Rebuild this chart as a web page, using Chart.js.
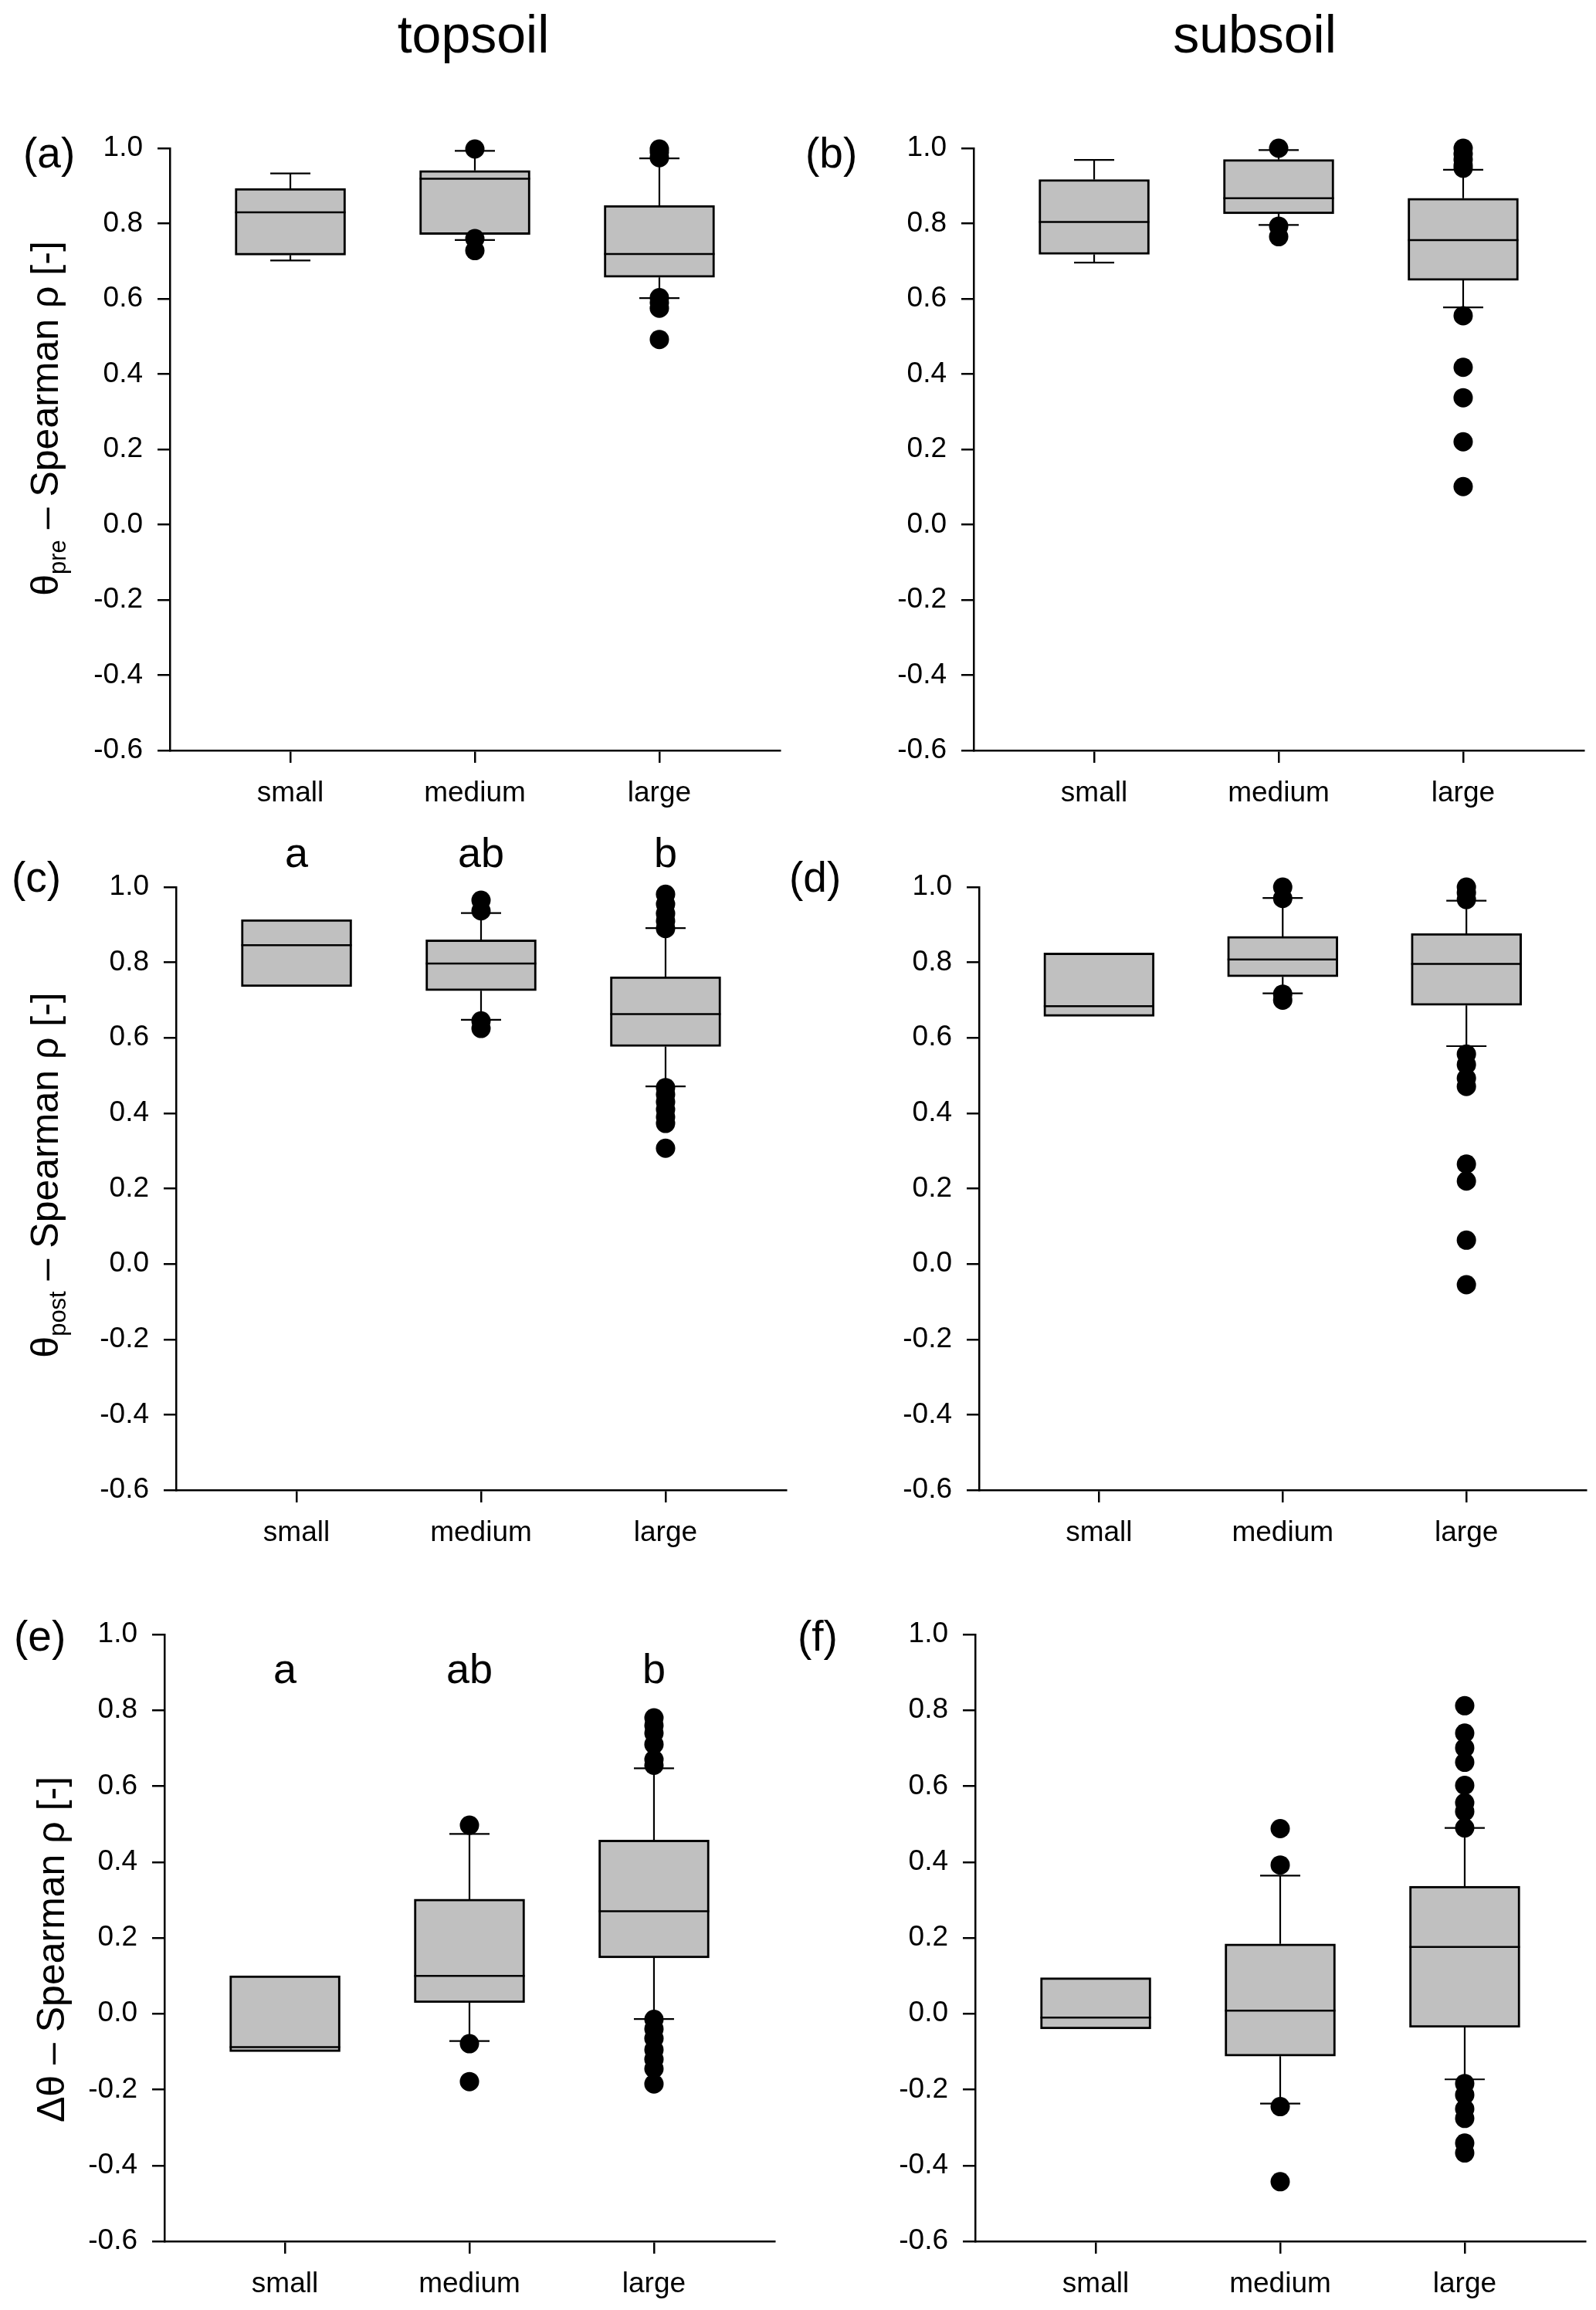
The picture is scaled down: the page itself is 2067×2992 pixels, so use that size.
<!DOCTYPE html>
<html>
<head>
<meta charset="utf-8">
<script src="https://cdn.jsdelivr.net/npm/chart.js@4.4.1/dist/chart.umd.min.js"></script>
<style>
  body { margin: 0; background: #fff; width: 2067px; height: 2992px; position: relative; overflow: hidden; }
  canvas { position: absolute; }
</style>
</head>
<body>
<canvas id="pa"></canvas>
<canvas id="pb"></canvas>
<canvas id="pc"></canvas>
<canvas id="pd"></canvas>
<canvas id="pe"></canvas>
<canvas id="pf"></canvas>
<script>
const categories = ["small", "medium", "large"];
const yTickValues = [-0.6, -0.4, -0.2, 0.0, 0.2, 0.4, 0.6, 0.8, 1.0];
const groupLetters = ["a", "ab", "b"];

// (a) theta pre, topsoil
const aLow = [0.702, 0.756, 0.602];
const aQ1 = [0.716, 0.771, 0.657];
const aMed = [0.830, 0.919, 0.719];
const aQ3 = [0.893, 0.941, 0.848];
const aHigh = [0.933, 0.993, 0.973];
const aOut = [[], [0.998, 0.760, 0.728], [0.998, 0.990, 0.975, 0.603, 0.590, 0.575, 0.492]];

// (b) theta pre, subsoil
const bLow = [0.696, 0.796, 0.577];
const bQ1 = [0.718, 0.826, 0.649];
const bMed = [0.804, 0.867, 0.756];
const bQ3 = [0.917, 0.970, 0.867];
const bHigh = [0.969, 0.995, 0.943];
const bOut = [[], [1.0, 0.793, 0.765], [1.0, 0.985, 0.970, 0.955, 0.947, 0.555, 0.418, 0.337, 0.220, 0.101]];

// (c) theta post, topsoil
const cLow = [null, 0.648, 0.471];
const cQ1 = [0.736, 0.725, 0.577];
const cMed = [0.846, 0.797, 0.663];
const cQ3 = [0.914, 0.860, 0.762];
const cHigh = [null, 0.931, 0.891];
const cOut = [[], [0.965, 0.937, 0.645, 0.625], [0.981, 0.955, 0.930, 0.910, 0.890, 0.468, 0.450, 0.430, 0.410, 0.390, 0.373, 0.307]];

// (d) theta post, subsoil
const dLow = [null, 0.718, 0.578];
const dQ1 = [0.657, 0.762, 0.686];
const dMed = [0.684, 0.808, 0.796];
const dQ3 = [0.825, 0.869, 0.877];
const dHigh = [null, 0.971, 0.964];
const dOut = [[], [1.0, 0.970, 0.716, 0.700], [1.0, 0.985, 0.967, 0.557, 0.529, 0.493, 0.471, 0.265, 0.220, 0.063, -0.055]];

// (e) delta theta, topsoil
const eLow = [null, -0.072, -0.014];
const eQ1 = [-0.100, 0.029, 0.147];
const eMed = [-0.088, 0.100, 0.270];
const eQ3 = [0.100, 0.302, 0.458];
const eHigh = [null, 0.474, 0.647];
const eOut = [[], [0.497, -0.079, -0.179], [0.780, 0.760, 0.740, 0.710, 0.670, 0.655, -0.015, -0.040, -0.065, -0.095, -0.120, -0.145, -0.185]];

// (f) delta theta, subsoil
const fLow = [null, -0.237, -0.173];
const fQ1 = [-0.040, -0.112, -0.036];
const fMed = [-0.010, 0.008, 0.176];
const fQ3 = [0.095, 0.184, 0.336];
const fHigh = [null, 0.364, 0.490];
const fOut = [[], [0.488, 0.392, -0.245, -0.443], [0.812, 0.740, 0.701, 0.663, 0.602, 0.556, 0.533, 0.490, -0.184, -0.214, -0.251, -0.276, -0.341, -0.367]];

const FONT = "'Liberation Sans', Arial, sans-serif";
const PLOT_W = 790;
const Y_BOX = 110;
const X_BOX = 80;
const BOX_W = 143;
const CAP_W = 52;

Chart.defaults.color = "#000";
Chart.defaults.font.family = FONT;

// Bố cục từng ô (không phải dữ liệu)
const panels = [
  { id: "pa", tag: "(a)", left: 0, top: 0, w: 1033, h: 1060, axisX: 220, plotTop: 192, plotBottom: 972,
    low: aLow, q1: aQ1, med: aMed, q3: aQ3, high: aHigh, out: aOut,
    label: [30, 202], yTitle: { sym: "θ", sub: "pre", x: 57, y: 542 }, colTitle: { text: "topsoil", x: 613, y: 68 } },
  { id: "pb", tag: "(b)", left: 1000, top: 0, w: 1067, h: 1060, axisX: 1261, plotTop: 192, plotBottom: 972,
    low: bLow, q1: bQ1, med: bMed, q3: bQ3, high: bHigh, out: bOut,
    label: [1043, 202], colTitle: { text: "subsoil", x: 1625, y: 68 } },
  { id: "pc", tag: "(c)", left: 0, top: 1060, w: 1033, h: 980, axisX: 228, plotTop: 1149, plotBottom: 1930,
    low: cLow, q1: cQ1, med: cMed, q3: cQ3, high: cHigh, out: cOut,
    label: [15, 1140], yTitle: { sym: "θ", sub: "post", x: 57, y: 1522 }, letters: groupLetters, letterY: 1.053 },
  { id: "pd", tag: "(d)", left: 1000, top: 1060, w: 1067, h: 980, axisX: 1268, plotTop: 1149, plotBottom: 1930,
    low: dLow, q1: dQ1, med: dMed, q3: dQ3, high: dHigh, out: dOut,
    label: [1022, 1140] },
  { id: "pe", tag: "(e)", left: 0, top: 2040, w: 1033, h: 952, axisX: 213, plotTop: 2117, plotBottom: 2903,
    low: eLow, q1: eQ1, med: eMed, q3: eQ3, high: eHigh, out: eOut,
    label: [18, 2123], yTitle: { sym: "Δθ", sub: "", x: 65, y: 2525 }, letters: groupLetters, letterY: 0.871 },
  { id: "pf", tag: "(f)", left: 1000, top: 2040, w: 1067, h: 952, axisX: 1263, plotTop: 2117, plotBottom: 2903,
    low: fLow, q1: fQ1, med: fMed, q3: fQ3, high: fHigh, out: fOut,
    label: [1033, 2123] }
];

// Vẽ râu, vạch trung vị và chữ cho biểu đồ hộp
function boxPartsPlugin(p) {
  return {
    id: "boxParts",
    beforeDatasetsDraw(chart) {
      const { ctx, scales: { x, y } } = chart;
      ctx.save();
      ctx.strokeStyle = "#000";
      ctx.lineWidth = 2.2;
      p.q1.forEach((q, i) => {
        const px = x.getPixelForValue(i);
        [[p.low[i], q], [p.high[i], p.q3[i]]].forEach(([end, edge]) => {
          if (end == null) return;
          const ye = y.getPixelForValue(end);
          ctx.beginPath();
          ctx.moveTo(px, y.getPixelForValue(edge));
          ctx.lineTo(px, ye);
          ctx.moveTo(px - CAP_W / 2, ye);
          ctx.lineTo(px + CAP_W / 2, ye);
          ctx.stroke();
        });
      });
      ctx.restore();
    },
    afterDatasetsDraw(chart) {
      const { ctx, scales: { x, y } } = chart;
      ctx.save();
      ctx.strokeStyle = "#000";
      ctx.lineWidth = 2.5;
      p.med.forEach((m, i) => {
        const px = x.getPixelForValue(i);
        const py = y.getPixelForValue(m);
        ctx.beginPath();
        ctx.moveTo(px - BOX_W / 2, py);
        ctx.lineTo(px + BOX_W / 2, py);
        ctx.stroke();
      });
      ctx.restore();
    },
    afterDraw(chart) {
      const { ctx, scales: { x, y } } = chart;
      ctx.save();
      ctx.fillStyle = "#000";
      // nhãn ô (a), (b)...
      ctx.font = "55px " + FONT;
      ctx.textAlign = "left";
      ctx.textBaseline = "middle";
      ctx.fillText(p.tag, p.label[0] - p.left, p.label[1] - p.top);
      // tiêu đề cột
      if (p.colTitle) {
        ctx.font = "68px " + FONT;
        ctx.textAlign = "center";
        ctx.textBaseline = "alphabetic";
        ctx.fillText(p.colTitle.text, p.colTitle.x - p.left, p.colTitle.y - p.top);
      }
      // chữ nhóm a / ab / b
      if (p.letters) {
        ctx.font = "54px " + FONT;
        ctx.textAlign = "center";
        ctx.textBaseline = "alphabetic";
        p.letters.forEach((t, i) => {
          ctx.fillText(t, x.getPixelForValue(i), y.getPixelForValue(p.letterY));
        });
      }
      // tiêu đề trục y có chỉ số dưới
      if (p.yTitle) {
        const big = "50px " + FONT, small = "31px " + FONT;
        const rest = " – Spearman ρ [-]";
        ctx.font = big;
        const w1 = ctx.measureText(p.yTitle.sym).width;
        const w3 = ctx.measureText(rest).width;
        ctx.font = small;
        const w2 = p.yTitle.sub ? ctx.measureText(p.yTitle.sub).width : 0;
        const total = w1 + w2 + w3;
        ctx.translate(p.yTitle.x - p.left, p.yTitle.y - p.top);
        ctx.rotate(-Math.PI / 2);
        ctx.textAlign = "left";
        ctx.textBaseline = "alphabetic";
        let cx = -total / 2;
        const base = 18;
        ctx.font = big;
        ctx.fillText(p.yTitle.sym, cx, base);
        cx += w1;
        if (p.yTitle.sub) {
          ctx.font = small;
          ctx.fillText(p.yTitle.sub, cx, base + 10);
          cx += w2;
        }
        ctx.font = big;
        ctx.fillText(rest, cx, base);
      }
      ctx.restore();
    }
  };
}

function axisOptions() {
  return {
    grid: { drawOnChartArea: false, drawTicks: true, tickLength: 16, color: "#000", lineWidth: 2.5, offset: false },
    border: { display: true, color: "#000", width: 2.5 }
  };
}

panels.forEach((p) => {
  const canvas = document.getElementById(p.id);
  canvas.width = p.w;
  canvas.height = p.h;
  canvas.style.left = p.left + "px";
  canvas.style.top = p.top + "px";

  const plotLeft = p.axisX - p.left;
  const plotTop = p.plotTop - p.top;
  const plotBottom = p.plotBottom - p.top;

  const boxes = p.q1.map((q, i) => ({ x: i, y: [q, p.q3[i]] }));
  const outliers = p.out.flatMap((vals, i) => vals.map((v) => ({ x: i, y: v })));

  new Chart(canvas, {
    type: "bar",
    data: {
      datasets: [
        {
          type: "line",
          data: outliers,
          showLine: false,
          pointRadius: 12.5,
          pointHoverRadius: 12.5,
          pointBackgroundColor: "#000",
          pointBorderWidth: 0,
          clip: false,
          order: 0
        },
        {
          type: "bar",
          data: boxes,
          backgroundColor: "#c0c0c0",
          borderColor: "#000",
          borderWidth: 3,
          borderSkipped: false,
          barThickness: BOX_W,
          clip: false,
          order: 1
        }
      ]
    },
    options: {
      responsive: false,
      animation: false,
      devicePixelRatio: 1,
      layout: {
        padding: {
          left: plotLeft - Y_BOX,
          top: plotTop,
          right: p.w - plotLeft - PLOT_W,
          bottom: p.h - plotBottom - X_BOX
        }
      },
      plugins: { legend: { display: false }, tooltip: { enabled: false } },
      scales: {
        x: {
          type: "linear",
          min: -0.653,
          max: 2.653,
          offset: false,
          afterBuildTicks: (s) => { s.ticks = categories.map((c, i) => ({ value: i })); },
          afterFit: (s) => { s.height = X_BOX; },
          ticks: {
            callback: (v) => categories[v],
            font: { size: 37, family: FONT },
            color: "#000",
            padding: 18,
            maxRotation: 0,
            autoSkip: false
          },
          ...axisOptions()
        },
        y: {
          type: "linear",
          min: -0.6,
          max: 1.0,
          afterBuildTicks: (s) => { s.ticks = yTickValues.map((v) => ({ value: v })); },
          afterFit: (s) => { s.width = Y_BOX; },
          ticks: {
            callback: (v) => v.toFixed(1),
            font: { size: 37, family: FONT },
            color: "#000",
            padding: 19
          },
          ...axisOptions()
        }
      }
    },
    plugins: [boxPartsPlugin(p)]
  });
});
</script>
</body>
</html>
